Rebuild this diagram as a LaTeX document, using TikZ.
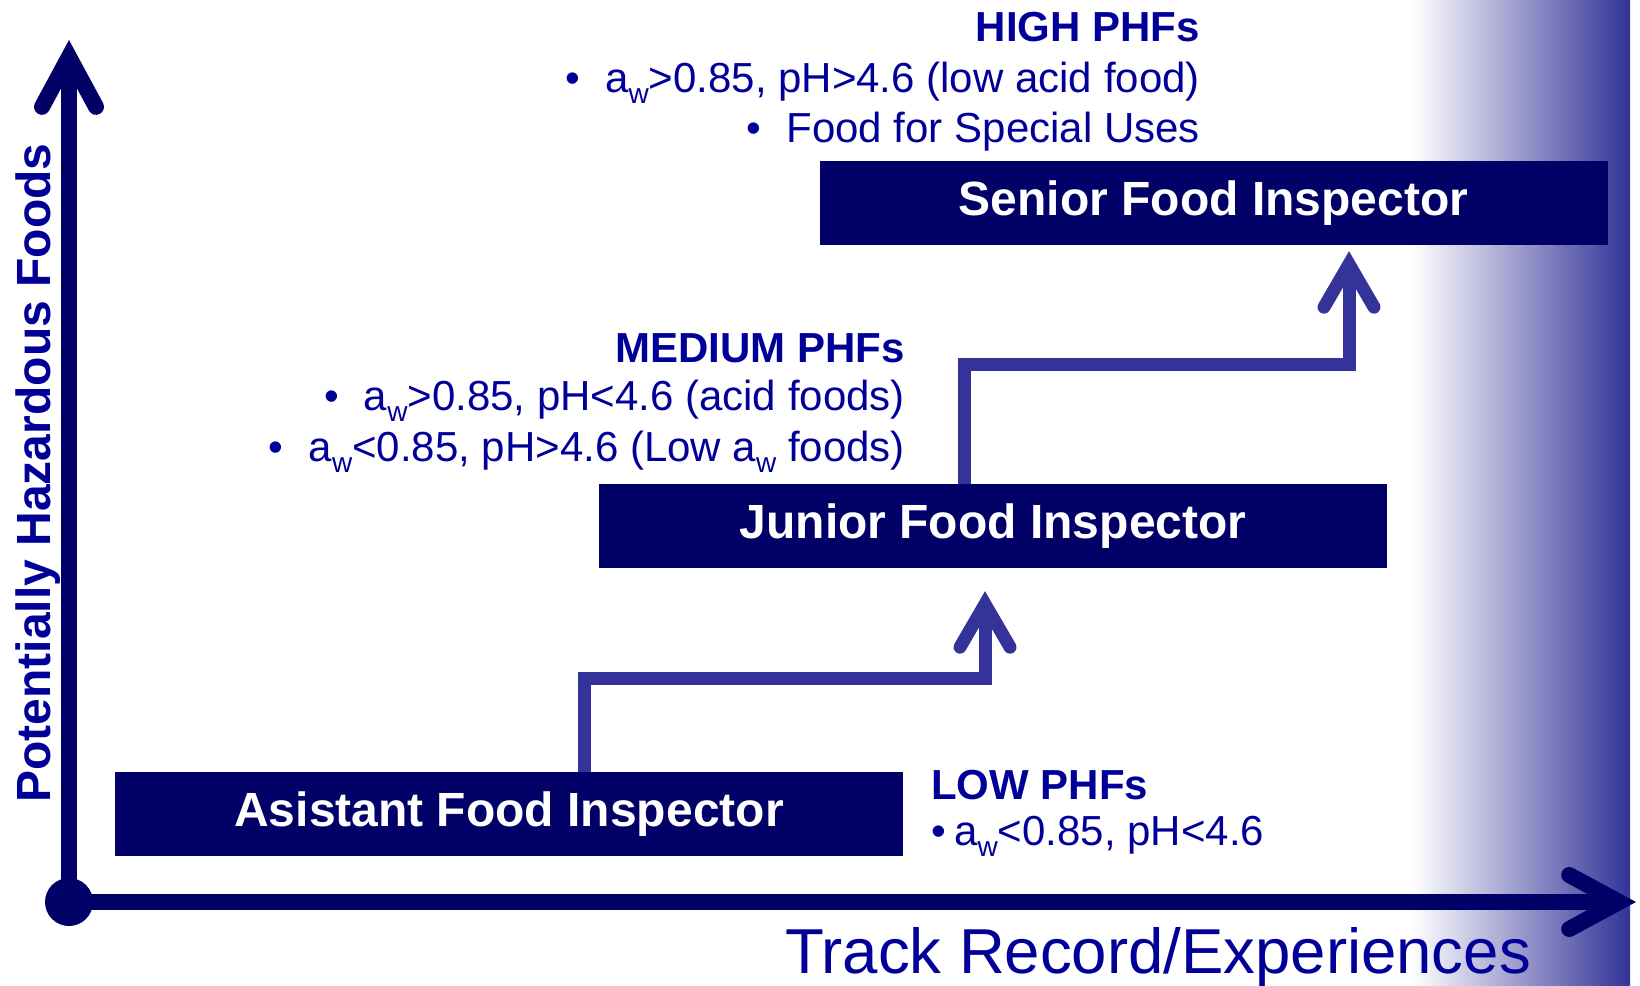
\documentclass[tikz,border=0pt]{standalone}
\usepackage{fontspec}
\setmainfont{Liberation Sans}
\usepackage{xcolor}
\usetikzlibrary{calc}
\usetikzlibrary{arrows.meta}
\definecolor{boxnavy}{HTML}{000066}
\definecolor{textblue}{HTML}{000099}
\definecolor{stepblue}{HTML}{333399}
\newcommand{\wsub}{\raisebox{-0.28em}{\fontsize{28}{28}\selectfont w}}
\tikzset{
  inspbox/.style={rectangle, fill=boxnavy, text=white, inner sep=0pt,
    minimum width=788pt, minimum height=84pt,
    font=\bfseries\fontsize{48}{50}\selectfont},
  phftext/.style={text=textblue, inner sep=0pt, font=\fontsize{42}{50}\selectfont},
  phftitle/.style={phftext, font=\bfseries\fontsize{42}{50}\selectfont},
  axisline/.style={boxnavy, line width=16pt,
    -{Straight Barb[length=50pt,width=54pt,line cap=round,line join=miter]}},
  steparrow/.style={stepblue, line width=13pt, line join=miter,
    -{Straight Barb[length=43pt,width=50pt,line cap=round,line join=miter]}}
}

\begin{document}
\begin{tikzpicture}[x=1pt,y=-1pt]
\useasboundingbox (0,0) rectangle (1640,985);
\shade[left color=white, right color=stepblue] (1412,0) rectangle (1630,985);

% inspectors
\node[inspbox] (asst) at (509,814) {Asistant Food Inspector};
\node[inspbox] (junior) at (993,526) {Junior Food Inspector};
\node[inspbox] (senior) at (1213.5,203) {Senior Food Inspector};

% steps up
\draw[steparrow] ([xshift=75pt]asst.north) |- (985,678) -- ([xshift=-8pt,yshift=-23pt]junior.south);
\draw[steparrow] ([xshift=-29pt]junior.north) |- (1349,364) -- ([xshift=135.5pt,yshift=-6pt]senior.south);

% axes
\node[circle, fill=boxnavy, inner sep=0pt, minimum size=48pt] (orig) at (69,902) {};
\coordinate (ytip) at (69,40);
\coordinate (xtip) at (1636,902);
\draw[axisline] (orig.center) -- (ytip);
\draw[axisline] (orig.center) -- (xtip);
\node[text=textblue, font=\bfseries\fontsize{48}{50}\selectfont, rotate=90, anchor=base, inner sep=0pt] (ylab) at (50,473) {Potentially Hazardous Foods};
\node[text=textblue, font=\fontsize{63.5}{70}\selectfont, anchor=base, inner sep=0pt] (xlab) at (1158,973) {Track Record/Experiences};

% PHF levels
\node[phftitle, anchor=base east] (high) at (1200,41) {HIGH PHFs};
\node[phftext, anchor=base east] (highA) at (1200,92) {\textbullet\hspace{0.6em}a\wsub>0.85, pH>4.6 (low acid food)};
\node[phftext, anchor=base east] (highB) at (1200,142) {\textbullet\hspace{0.6em}Food for Special Uses};

\node[phftitle, anchor=base east] (med) at (905,362) {MEDIUM PHFs};
\node[phftext, anchor=base east] (medA) at (905,410) {\textbullet\hspace{0.6em}a\wsub>0.85, pH<4.6 (acid foods)};
\node[phftext, anchor=base east] (medB) at (905,461) {\textbullet\hspace{0.6em}a\wsub<0.85, pH>4.6 (Low a\wsub{} foods)};

\node[phftitle, anchor=base west] (low) at (931,799) {LOW PHFs};
\node[phftext, anchor=base west] (lowA) at (931,845) {\textbullet\hspace{0.2em}a\wsub<0.85, pH<4.6};
\end{tikzpicture}
\end{document}
